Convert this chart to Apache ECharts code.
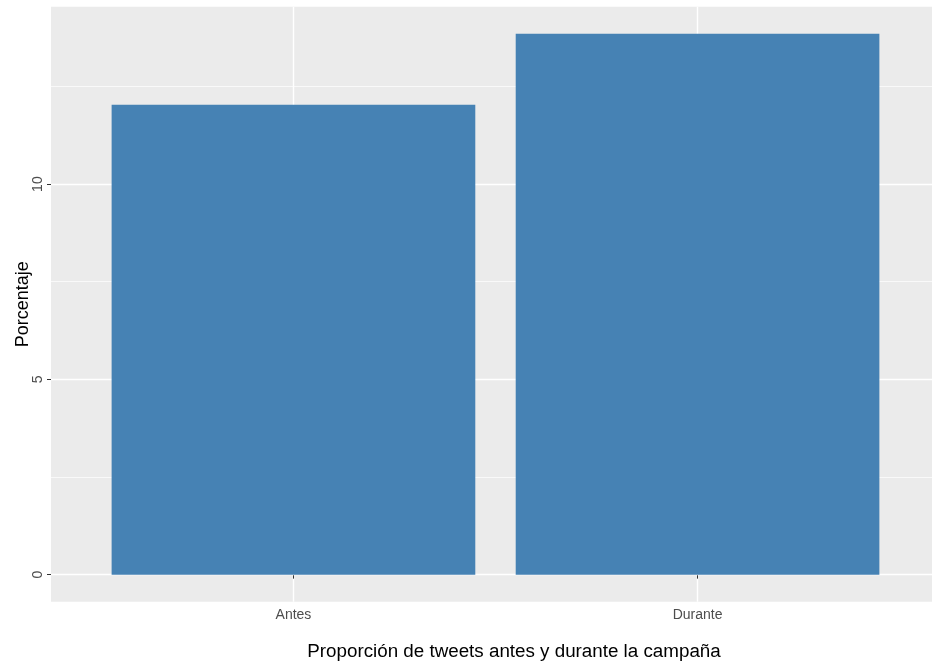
<!DOCTYPE html>
<html>
<head>
<meta charset="utf-8">
<script src="https://cdn.jsdelivr.net/npm/echarts@6/dist/echarts.min.js"></script>
<style>html,body{margin:0;padding:0;background:#fff;}#chart{width:932px;height:662px;}</style>
</head>
<body>
<div id="chart"></div>
<script>
const categories = ['Antes', 'Durante'];
const values = [12.03, 13.85];
const yMajorTicks = [0, 5, 10];
const yMinorTicks = [2.5, 7.5, 12.5];
const xTitle = 'Proporción de tweets antes y durante la campaña';
const yTitle = 'Porcentaje';

const positions = categories.map((c, i) => i + 1);
const yMax = Math.max(...values);
const yPad = yMax * 0.05;

const chart = echarts.init(document.getElementById('chart'));
chart.setOption({
  animation: false,
  backgroundColor: '#ffffff',
  textStyle: { fontFamily: 'Liberation Sans, Arial, sans-serif' },
  title: {
    text: xTitle,
    left: 514, top: 642, padding: 0,
    textAlign: 'center',
    textStyle: { fontSize: 18.8, fontWeight: 'normal', color: '#000000', fontFamily: 'Liberation Sans, Arial, sans-serif' }
  },
  grid: {
    left: 51, top: 6.7, width: 889, height: 595,
    outerBoundsMode: 'none', containLabel: false,
    show: true, backgroundColor: '#EBEBEB', borderWidth: 0
  },
  xAxis: {
    type: 'value', min: 0.4, max: 2.6,
    axisLine: { show: false },
    axisTick: { show: true, customValues: positions, length: 4, lineStyle: { color: '#333333', width: 1 } },
    axisLabel: {
      customValues: positions, margin: 6, fontSize: 14, color: '#4D4D4D',
      formatter: v => categories[Math.round(v) - 1] || ''
    },
    splitLine: { show: true, lineStyle: { color: '#FFFFFF', width: 1.4 } }
  },
  yAxis: [{
    type: 'value', min: -yPad, max: yMax + yPad,
    name: yTitle, nameLocation: 'middle', nameRotate: 90, nameGap: 19, nameMoveOverlap: false,
    nameTextStyle: { fontSize: 18, color: '#000000' },
    axisLine: { show: false },
    axisTick: { show: true, customValues: yMajorTicks, length: 4, lineStyle: { color: '#333333', width: 1 } },
    axisLabel: { customValues: yMajorTicks, rotate: 90, margin: 6, fontSize: 14, color: '#4D4D4D' },
    splitLine: { show: true, lineStyle: { color: '#FFFFFF', width: 1.4 } },
    z: 2
  }, {
    type: 'value', min: -yPad, max: yMax + yPad, position: 'left',
    axisLine: { show: false },
    axisTick: { show: false, customValues: yMinorTicks },
    axisLabel: { show: false },
    splitLine: { show: true, lineStyle: { color: '#FFFFFF', width: 0.7 } },
    z: 1
  }],
  series: [{
    type: 'bar',
    yAxisIndex: 0,
    data: positions.map((p, i) => [p, values[i]]),
    barWidth: '90%',
    itemStyle: { color: '#4682B4' },
    z: 3
  }]
});
</script>
</body>
</html>
